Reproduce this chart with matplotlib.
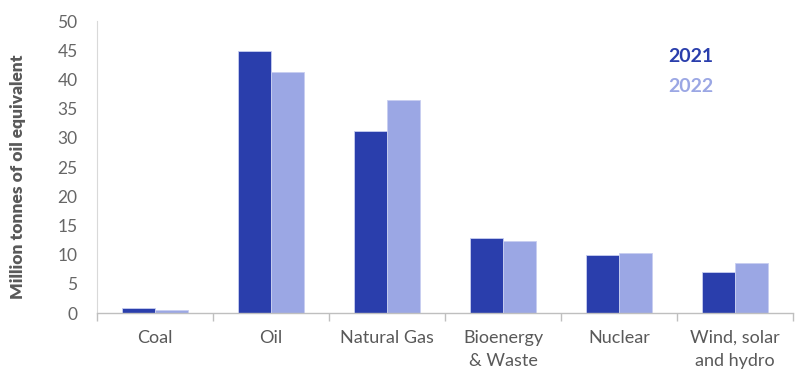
import matplotlib
matplotlib.use("Agg")
import matplotlib.pyplot as plt
import numpy as np

categories = ["Coal", "Oil", "Natural Gas", "Bioenergy\n& Waste", "Nuclear", "Wind, solar\nand hydro"]
values_2021 = [0.8, 44.8, 31.2, 12.8, 9.9, 7.0]
values_2022 = [0.5, 41.2, 36.4, 12.4, 10.3, 8.6]
yticks = [0, 5, 10, 15, 20, 25, 30, 35, 40, 45, 50]

c2021 = "#2A3EAC"
c2022 = "#9BA7E4"
gray = "#595959"

plt.rcParams['font.family'] = ['Lato', 'DejaVu Sans']

fig = plt.figure(figsize=(8.01, 3.84), dpi=100)
ax = fig.add_axes([97/801, (384-313)/384, (793-97)/801, (313-21)/384])

x = np.arange(len(categories))
w = 0.285
ax.bar(x - w/2, values_2021, w, color=c2021, edgecolor="#C8CEF0", linewidth=0.6)
ax.bar(x + w/2, values_2022, w, color=c2022, edgecolor="#C8CEF0", linewidth=0.6)

ax.set_xlim(-0.5, len(categories) - 0.5)
ax.set_ylim(0, 50)
ax.set_yticks(yticks)
ax.set_yticklabels([str(v) for v in yticks], fontsize=12.5, color="#666666")
ax.tick_params(axis='y', length=0, pad=14)

ax.set_xticks(x)
ax.set_xticklabels(categories, fontsize=13, color=gray, linespacing=1.55)
ax.tick_params(axis='x', which='major', length=0, pad=12)
ax.set_xticks(np.arange(-0.5, len(categories)), minor=True)
ax.tick_params(axis='x', which='minor', length=6, color="#BFBFBF", width=1)

for s in ["top", "right"]:
    ax.spines[s].set_visible(False)
ax.spines["left"].set_color("#D9D9D9")
ax.spines["bottom"].set_color("#BFBFBF")
ax.spines["bottom"].set_linewidth(1)

fig.text(18/801, 1 - 177/384, "Million tonnes of oil equivalent", rotation=90, fontsize=12.5,
         fontweight="heavy", color=gray, ha="center", va="center")

fig.text(668/801, 1 - 57/384, "2021", fontsize=14, fontweight="bold", color=c2021, ha="left", va="center")
fig.text(668/801, 1 - 86/384, "2022", fontsize=14, fontweight="bold", color=c2022, ha="left", va="center")

fig.savefig("out.png", dpi=100)
